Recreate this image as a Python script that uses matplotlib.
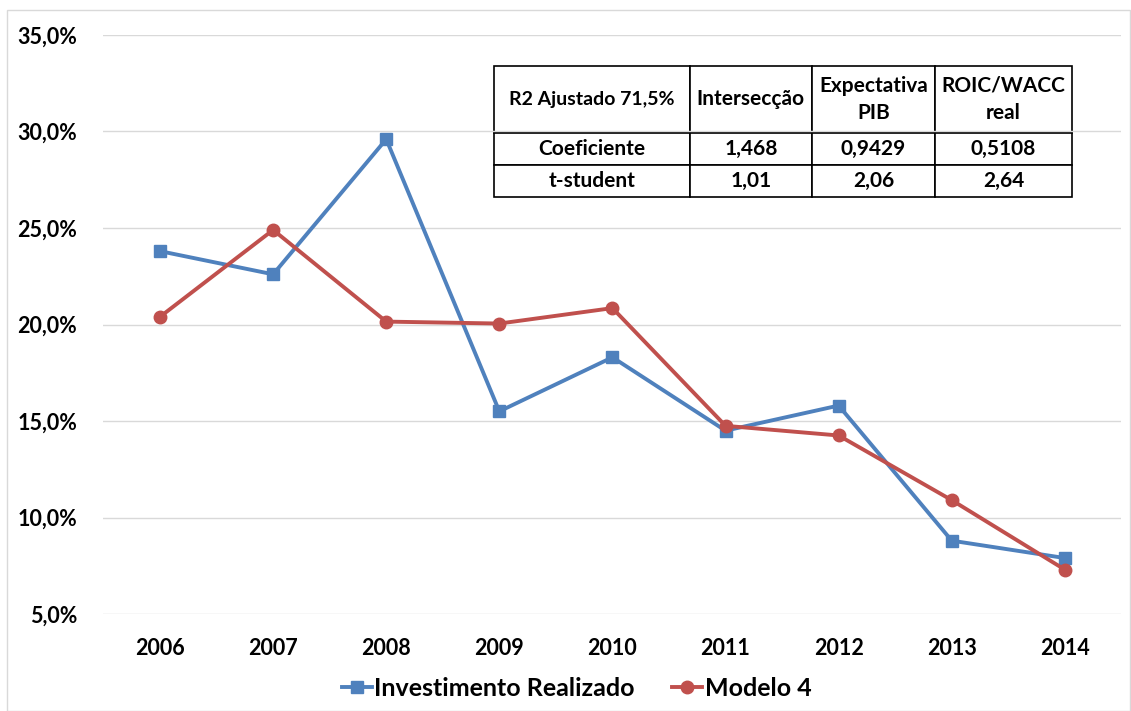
import numpy as np
import matplotlib.pyplot as plt
from matplotlib.patches import Rectangle
from matplotlib.ticker import FuncFormatter

plt.rcParams['font.family'] = ['Lato', 'DejaVu Sans']
plt.rcParams['font.weight'] = 'bold'

anos = ['2006', '2007', '2008', '2009', '2010', '2011', '2012', '2013', '2014']
investimento = [23.8, 22.6, 29.6, 15.5, 18.3, 14.5, 15.8, 8.8, 7.9]
modelo4 = [20.4, 24.9, 20.15, 20.05, 20.85, 14.75, 14.25, 10.9, 7.3]

tab_header = ['R2 Ajustado 71,5%', 'Intersecção', 'Expectativa\nPIB', 'ROIC/WACC\nreal']
tab_rows = [['Coeficiente', '1,468', '0,9429', '0,5108'],
            ['t-student', '1,01', '2,06', '2,64']]

azul = '#4F81BD'
vermelho = '#C0504D'

fig = plt.figure(figsize=(11.31, 7.11), dpi=100)
fig.patches.append(Rectangle((7/1131, 0), 1 - 7/1131 - 0.001, 1 - 10/711, transform=fig.transFigure,
                             fill=False, edgecolor='#D9D9D9', lw=1))
ax = fig.add_axes([0.0915, 0.1364, 0.900, 0.8144])

x = np.arange(len(anos))
ax.plot(x, investimento, color=azul, lw=2.8, marker='s', ms=9, label='Investimento Realizado')
ax.plot(x, modelo4, color=vermelho, lw=2.8, marker='o', ms=9, label='Modelo 4')

ax.set_xlim(-0.5, len(anos) - 0.5)
ax.set_ylim(5, 35)
ax.set_yticks(np.arange(5, 36, 5))
ax.yaxis.set_major_formatter(FuncFormatter(lambda v, p: f'{v:.1f}%'.replace('.', ',')))
ax.set_xticks(x)
ax.set_xticklabels(anos)
ax.tick_params(axis='both', length=0, labelsize=15.5)
ax.tick_params(axis='y', pad=19)
ax.tick_params(axis='x', pad=17)
ax.grid(axis='y', color='#D9D9D9', lw=1)
ax.set_axisbelow(True)
for s in ax.spines.values():
    s.set_visible(False)

tab = ax.table(cellText=tab_rows, colLabels=tab_header, cellLoc='center',
               colWidths=[196, 122, 123, 137], bbox=[0.3836, 0.7202, 0.5678, 0.2263])
tab.auto_set_font_size(False)
for (r, c), cell in tab.get_celld().items():
    cell.set_height(67 if r == 0 else 32)
    cell.set_linewidth(1.2)
    cell.set_edgecolor('black')
    t = cell.get_text()
    t.set_fontsize(15)
    t.set_fontweight('bold')
    t.set_linespacing(1.45)
tab.get_celld()[(0, 0)].get_text().set_fontsize(14)

fig.legend(loc='center', bbox_to_anchor=(0.51, 0.032), ncol=2, frameon=False,
           fontsize=18, handlelength=1.2, handletextpad=0.1, columnspacing=1.5)

fig.savefig('out.png', dpi=100)
